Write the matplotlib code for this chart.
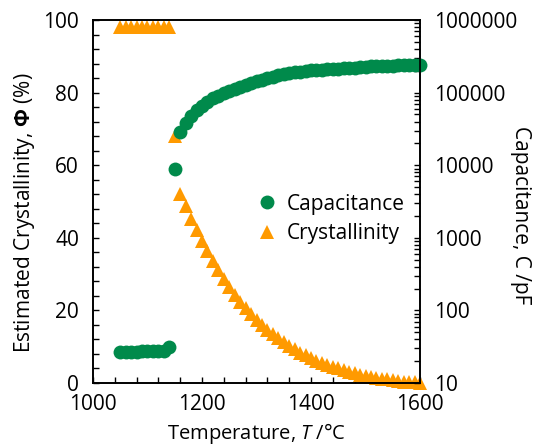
import numpy as np
import matplotlib
matplotlib.use('Agg')
import matplotlib.pyplot as plt
from matplotlib.ticker import MultipleLocator, FixedLocator, LogLocator, NullFormatter

plt.rcParams['font.family'] = ['Open Sans', 'DejaVu Sans']
plt.rcParams['mathtext.fontset'] = 'custom'
plt.rcParams['mathtext.rm'] = 'Open Sans'
plt.rcParams['mathtext.it'] = 'Open Sans:italic'
plt.rcParams['mathtext.bf'] = 'Open Sans:bold'

# данные
temp_low = [1050, 1060, 1070, 1080, 1090, 1100, 1110, 1120, 1130, 1140]
cryst_low = [98, 98, 98, 98, 98, 98, 98, 98, 98, 98]
cap_low = [26.5, 26.5, 26.8, 27.0, 27.2, 27.3, 27.5, 27.6, 28.0, 31.0]

temp_mid = [1150]
cryst_mid = [68]
cap_mid = [8900]

temp_high = [1160, 1170, 1180, 1190, 1200, 1210, 1220, 1230, 1240, 1250,
             1260, 1270, 1280, 1290, 1300, 1310, 1320, 1330, 1340, 1350,
             1360, 1370, 1380, 1390, 1400, 1410, 1420, 1430, 1440, 1450,
             1460, 1470, 1480, 1490, 1500, 1510, 1520, 1530, 1540, 1550,
             1560, 1570, 1580, 1590, 1600]
cryst_high = [52.0, 48.8, 45.3, 42.2, 39.2, 36.3, 33.5, 31.0, 28.7, 26.4,
              24.2, 22.3, 20.6, 18.9, 17.4, 15.9, 14.6, 13.4, 12.3, 11.2,
              10.2, 9.3, 8.4, 7.6, 6.9, 6.2, 5.6, 5.0, 4.5, 4.0,
              3.5, 3.1, 2.7, 2.3, 2.0, 1.7, 1.4, 1.2, 1.0, 0.8,
              0.6, 0.4, 0.3, 0.2, 0.0]
cap_high = [28800, 38000, 47900, 57500, 66100, 74100, 83200, 90200, 97700, 105000,
            112000, 120000, 129000, 136000, 145000, 151000, 158000, 166000, 174000, 180000,
            186000, 191000, 195000, 200000, 202000, 204000, 207000, 209000, 211000, 214000,
            216000, 219000, 221000, 224000, 226000, 229000, 229000, 232000, 234000, 234000,
            237000, 237000, 240000, 240000, 240000]

temp = temp_low + temp_mid + temp_high
cryst = cryst_low + cryst_mid + cryst_high
cap = cap_low + cap_mid + cap_high

green = '#008a4b'
orange = '#ff9a00'

fig = plt.figure(figsize=(5.36, 4.45), dpi=100)
ax = fig.add_axes([0.1735, 0.1393, 0.6101, 0.8157])
ax2 = ax.twinx()

l1, = ax.plot(temp, cryst, '^', color=orange, markersize=10, markeredgewidth=0,
              clip_on=False, label='Crystallinity')
l2, = ax2.plot(temp, cap, 'o', color=green, markersize=10, markeredgewidth=0,
               clip_on=False, label='Capacitance')

ax.set_xlim(1000, 1600)
ax.set_ylim(0, 100)
ax2.set_yscale('log')
ax2.set_ylim(10, 1e6)

ax.xaxis.set_major_locator(MultipleLocator(200))
ax.xaxis.set_minor_locator(MultipleLocator(40))
ax.yaxis.set_major_locator(MultipleLocator(20))
ax.yaxis.set_minor_locator(MultipleLocator(4))

yt = [10, 100, 1000, 10000, 100000, 1000000]
ax2.yaxis.set_major_locator(FixedLocator(yt))
ax2.set_yticklabels([str(v) for v in yt])
ax2.yaxis.set_minor_locator(LogLocator(base=10, subs=np.arange(2, 10)))
ax2.yaxis.set_minor_formatter(NullFormatter())

ax.tick_params(axis='both', which='both', direction='in', labelsize=15, width=1, length=4)
ax.tick_params(axis='y', pad=10)
ax.tick_params(axis='x', pad=8)
ax.tick_params(top=False, right=False, which='both')
ax2.tick_params(axis='y', which='both', direction='in', labelsize=15, width=1, length=4, pad=10)

for a in (ax, ax2):
    for s in a.spines.values():
        s.set_linewidth(1.2)

ax.set_xlabel('Temperature, $\\mathit{T}$ /°C', fontsize=14.5, va='center')
ax.xaxis.set_label_coords(0.5, -0.138)
ax.set_ylabel('Estimated Crystallinity, $\\mathbf{Φ}$ (%)', fontsize=15, va='center')
ax.yaxis.set_label_coords(-0.208, 0.468)
ax2.set_ylabel('Capacitance, C /pF', fontsize=15, rotation=270, va='center')
ax2.yaxis.set_label_coords(1.306, 0.463)

ax2.legend(handles=[l2, l1], loc='center left', bbox_to_anchor=(0.495, 0.452),
           frameon=False, fontsize=15, handletextpad=0.35, handlelength=1.2,
           labelspacing=0.4, borderaxespad=0, borderpad=0)

fig.savefig('out.png', dpi=100)
